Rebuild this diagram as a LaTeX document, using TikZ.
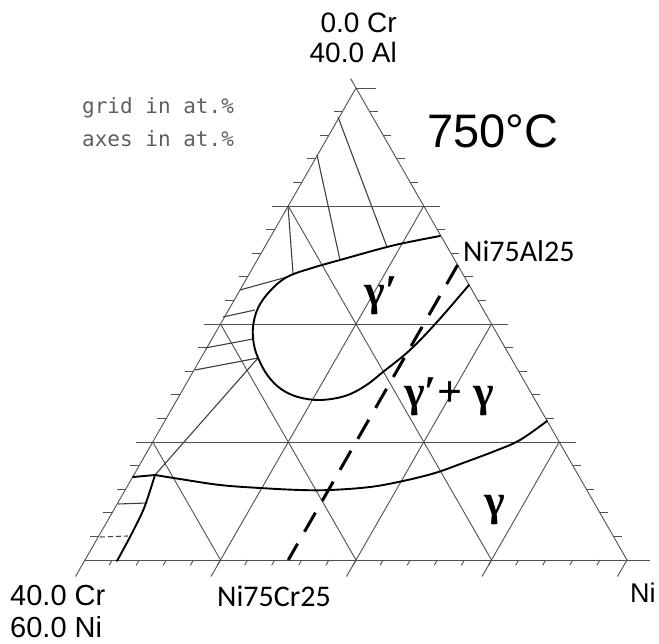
\documentclass[tikz,border=0pt]{standalone}
\usepackage{fontspec}
\setmainfont{Liberation Sans}
\newfontfamily\alloyfont{Carlito}
\newfontfamily\phasefont{Liberation Serif}
\newfontfamily\plotterfont{DejaVu Sans Mono}
\definecolor{gridgray}{RGB}{80,80,80}
\definecolor{notegray}{RGB}{95,95,95}
\usetikzlibrary{positioning}

\begin{document}
\begin{tikzpicture}[x=1pt, y=-1pt,
    gridline/.style={draw=gridgray, line width=0.9pt},
    tieline/.style={draw=black!75, line width=1.1pt},
    phaseline/.style={draw=black, line width=1.9pt, line join=round, line cap=round},
    sectionline/.style={draw=black, line width=3pt, dash pattern=on 22pt off 13.7pt},
    corner/.style={font=\fontsize{28}{30}\selectfont, inner sep=0pt},
    alloy/.style={font=\alloyfont\fontsize{30}{32}\selectfont, inner sep=0pt},
    phase/.style={font=\phasefont\bfseries\fontsize{44}{44}\selectfont, inner sep=0pt},
    tern/.style={shift={(627,560)}, x={(-13.55pt,0pt)}, y={(-6.775pt,11.8pt)}}
]
\useasboundingbox (0,0) rectangle (659,644);

% Triangulo (Cr, Al)
\begin{scope}[tern]
    \draw[gridline] (41.4,-1.4) -- (0,40);
    \draw[gridline] (0,0) -- (0,40.8);
    \draw[gridline] (40,0) -- (-1.7,0);
    \draw[gridline] (0,0) -- (1.4,-1.4);
    \draw[gridline] (0,40) -- (-1.5,40);
    \foreach \v in {10,20,30} {
        \draw[gridline] ({41.2-\v},\v) -- (-1.2,\v);
        \draw[gridline] (\v,0) -- (\v,{40-\v});
        \draw[gridline] ({\v+1.4},-1.4) -- (0,\v);
    }
    \foreach \t in {2,4,...,38} {
        \draw[gridline] (0,\t) -- ++(-0.6,0);
        \draw[gridline] ({40-\t},\t) -- ++(0.65,0);
        \draw[gridline] (\t,0) -- ++(0.45,-0.45);
    }
    \coordinate (ni75al25) at (0,25);
    \coordinate (ni75cr25) at (25,0);
\end{scope}

% Lineas de enlace
\draw[tieline] (317,155) -- (340,260);
\draw[tieline] (338,117) -- (387,247);
\draw[tieline] (288,206) -- (293,273);
\draw[tieline] (240,290) -- (287,277);
\draw[tieline] (223,317) -- (255,310);
\draw[tieline] (205,348) -- (253,339);
\draw[tieline] (195,370) -- (258,358);
\draw[tieline] (258,358) -- (155,475);
\draw[tieline] (118,504) -- (147,503);
\draw[tieline, dash pattern=on 5pt off 3pt] (100,537) -- (128,536);

% Limites de fase
\draw[phaseline] plot[smooth, tension=0.6] coordinates {(440,236) (414,241) (387,247) (340,260) (312,268) (287,277) (270,291) (258,308) (253,327) (254,345) (259,360) (268,376) (281,389) (298,397) (320,400) (345,396) (365,386) (383,372) (410,350) (437,322) (469,285)};
\draw[phaseline] (133,477) -- (155,475);
\draw[phaseline] plot[smooth, tension=0.6] coordinates {(155,475) (180,479) (220,485) (260,488) (300,490) (330,490) (370,487) (403,481) (435,473) (463,463) (495,451) (520,440) (547,421)};
\draw[phaseline] plot[smooth, tension=0.5] coordinates {(155,475) (148,497) (142,513) (130,537) (117,561)};

% Seccion Ni75Al25 - Ni75Cr25
\draw[sectionline] (ni75al25) -- (ni75cr25);

% Textos
\node[corner, align=right, anchor=north east] (topCorner) at (397,13) {0.0 Cr\\40.0 Al};
\node[corner, font=\fontsize{29}{32}\selectfont, align=left, anchor=north west] (leftCorner) at (10,585) {40.0 Cr\\60.0 Ni};
\node[corner, font=\fontsize{27}{30}\selectfont, anchor=north west] (niCorner) at (630,583) {Ni};
\node[font=\fontsize{47}{50}\selectfont, inner sep=0pt, anchor=base west] (temp) at (427,148) {750°C};
\node[font=\plotterfont\fontsize{21}{33}\selectfont, text=notegray, align=left, anchor=north west, inner sep=0pt] (units) at (82,97) {grid in at.\%\\axes in at.\%};
\node[alloy, anchor=base west] (niAl) at (463,262) {Ni75Al25};
\node[alloy, anchor=base west] (niCr) at (217,606) {Ni75Cr25};
\node[phase] (gammaP) at (381,296) {γ′};
\node[phase] (gammaPG) at (449,397) {γ′+ γ};
\node[phase] (gamma) at (495,510) {γ};
\end{tikzpicture}
\end{document}
